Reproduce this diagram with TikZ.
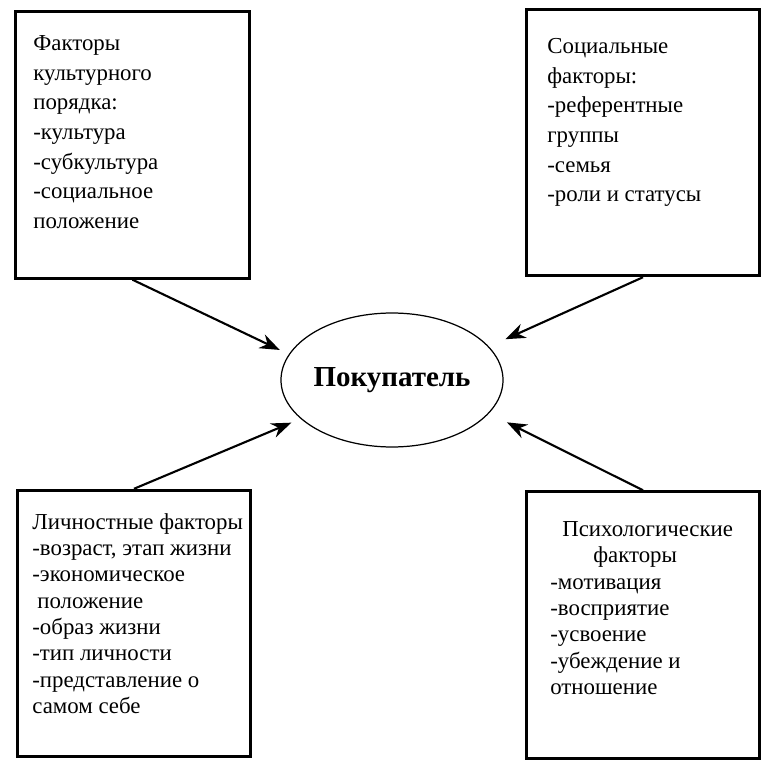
\documentclass[tikz,border=0pt]{standalone}
\usepackage{fontspec}
\setmainfont{Liberation Serif}
\usetikzlibrary{shapes.geometric,arrows.meta}

\begin{document}
\begin{tikzpicture}[x=0.02cm,y=-0.02cm]
% Styles for the factor boxes, their texts, the buyer and the arrows
\tikzset{
factor/.style={draw,line width=1.7pt,inner sep=0pt,minimum width=4.68cm,minimum height=5.33cm},
factor text/.style={anchor=north west,align=left,inner sep=0pt,font=\fontsize{13}{16.9}\selectfont},
buyer node/.style={ellipse,draw,line width=0.7pt,inner sep=0pt,minimum width=4.4cm,minimum height=2.68cm,font=\fontsize{16.5}{20}\selectfont\bfseries},
factor arrow/.style={-{Stealth[length=0.4cm,width=0.3cm,inset=0.13cm]},line width=1.2pt}
}
\useasboundingbox (0,0) rectangle (782,777);

% The buyer
\node(buyer)[buyer node] at (392,380) {Покупатель};

% The four groups of factors
\node(cult)[factor] at (132.5,145) {};
\node(cultt)[factor text] at (33,35) {Факторы\\культурного\\порядка:\\-культура\\-субкультура\\-социальное\\положение};

\node(soc)[factor] at (643,142.5) {};
\node(soct)[factor text] at (547,38) {Социальные\\факторы:\\-референтные\\группы\\-семья\\-роли и статусы};

\node(pers)[factor] at (134,623.5) {};
\node(perst)[factor text,font=\fontsize{13}{15}\selectfont] at (32,513) {Личностные факторы\\-возраст, этап жизни\\-экономическое\\\hspace{0.1cm}положение\\-образ жизни\\-тип личности\\-представление о\\самом себе};

\node(psy)[factor] at (643,625) {};
\node(psyt)[factor text,font=\fontsize{13}{15}\selectfont] at (550,521) {\hspace{0.24cm}Психологические\\\hspace{0.86cm}факторы\\-мотивация\\-восприятие\\-усвоение\\-убеждение и\\отношение};

% Arrows into the buyer
\draw[factor arrow,shorten >=0.2cm] (cult.south) -- (buyer.166);
\draw[factor arrow,shorten >=0.36cm] (soc.south) -- (buyer.19);
\draw[factor arrow,shorten >=0.2cm] (pers.north) -- (buyer.203);
\draw[factor arrow,shorten >=0.4cm] (psy.north) -- (buyer.-19);

\end{tikzpicture}
\end{document}
